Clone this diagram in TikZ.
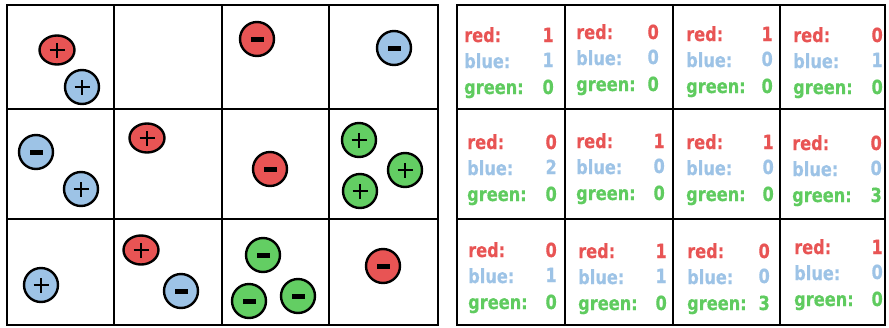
\documentclass[tikz,border=0pt]{standalone}
\usepackage{fontspec}
\setmainfont{DejaVu Sans}[FakeStretch=0.83,BoldFeatures={FakeBold=0.6}]
\usetikzlibrary{shapes.geometric}
\definecolor{cred}{HTML}{E85454}
\definecolor{cblue}{HTML}{9DC3E6}
\definecolor{cgreen}{HTML}{63CE63}
\definecolor{tred}{HTML}{E85454}
\definecolor{tblue}{HTML}{9DC3E6}
\definecolor{tgreen}{HTML}{5FCB5F}
\tikzset{
  gridline/.style={line width=2.5pt, black},
  chg/.style={circle, draw=black, line width=2.4pt, minimum size=34pt, inner sep=0pt},
  chgell/.style={ellipse, draw=black, line width=2.4pt, minimum width=35pt, minimum height=29pt, inner sep=0pt},
  plussign/.style={path picture={\draw[line width=2.1pt]
     ([xshift=-7.5pt]path picture bounding box.center) -- ([xshift=7.5pt]path picture bounding box.center)
     ([yshift=-7.5pt]path picture bounding box.center) -- ([yshift=7.5pt]path picture bounding box.center);}},
  minussign/.style={path picture={\fill[black]
     ([xshift=-6.5pt,yshift=-2.5pt]path picture bounding box.center) rectangle ([xshift=6.5pt,yshift=2.5pt]path picture bounding box.center);}},
  rd/.style={fill=cred}, bl/.style={fill=cblue}, gr/.style={fill=cgreen},
  lbl/.style={anchor=base west, inner sep=0pt, font=\fontsize{19.5}{21}\selectfont\bfseries},
  num/.style={anchor=base east, inner sep=0pt, font=\fontsize{19.5}{21}\selectfont\bfseries},
}
\newcommand\tally[7]{%
  \node[lbl,text=tred] (#1rl) at (#2,#4) {red:};
  \node[num,text=tred] (#1rn) at (#3,#4) {#5};
  \node[lbl,text=tblue] (#1bl) at (#2,{#4+26}) {blue:};
  \node[num,text=tblue] (#1bn) at (#3,{#4+25}) {#6};
  \node[lbl,text=tgreen] (#1gl) at (#2,{#4+52}) {green:};
  \node[num,text=tgreen] (#1gn) at (#3,{#4+52}) {#7};
}
\begin{document}
\begin{tikzpicture}[x=1pt,y=-1pt]
\useasboundingbox (0,0) rectangle (889,327);
% left grid
\draw[gridline] (7,5) rectangle (438,325);
\draw[gridline] (114,5) -- (114,325) (222,5) -- (222,325) (329,5) -- (329,325);
\draw[gridline] (7,109) -- (438,109) (7,219) -- (438,219);
% right grid
\draw[gridline] (457,5) rectangle (885,325);
\draw[gridline] (565,5) -- (565,325) (673,5) -- (673,325) (780,5) -- (780,325);
\draw[gridline] (457,109) -- (885,109) (457,219) -- (885,219);
% charges row 1
\node[chgell,rd,plussign] (a1) at (57,50) {};
\node[chg,bl,plussign] (a2) at (82,87) {};
\node[chg,rd,minussign] (a3) at (257,39) {};
\node[chg,bl,minussign] (a4) at (394,48) {};
% row 2
\node[chg,bl,minussign] (b1) at (36,152) {};
\node[chg,bl,plussign] (b2) at (81,189) {};
\node[chgell,rd,plussign] (b3) at (147,138) {};
\node[chg,rd,minussign] (b4) at (270,169) {};
\node[chg,gr,plussign] (b5) at (359,140) {};
\node[chg,gr,plussign] (b6) at (405,170) {};
\node[chg,gr,plussign] (b7) at (360,191) {};
% row 3
\node[chg,bl,plussign] (c1) at (41,285) {};
\node[chgell,rd,plussign] (c2) at (141,250) {};
\node[chg,bl,minussign] (c3) at (181,291) {};
\node[chg,gr,minussign] (c4) at (263,255) {};
\node[chg,gr,minussign] (c5) at (249,301) {};
\node[chg,gr,minussign] (c6) at (298,296) {};
\node[chg,rd,minussign] (c7) at (383,266) {};
% tallies
\tally{t00}{464}{554}{42}{1}{1}{0}
\tally{t01}{576}{659}{39}{0}{0}{0}
\tally{t02}{686}{773}{41}{1}{0}{0}
\tally{t03}{793}{883}{42}{0}{1}{0}
\tally{t10}{467}{557}{149}{0}{2}{0}
\tally{t11}{576}{665}{148}{1}{0}{0}
\tally{t12}{686}{774}{149}{1}{0}{0}
\tally{t13}{792}{882}{150}{0}{0}{3}
\tally{t20}{468}{557}{257}{0}{1}{0}
\tally{t21}{578}{667}{258}{1}{1}{0}
\tally{t22}{687}{770}{258}{0}{0}{3}
\tally{t23}{794}{883}{254}{1}{0}{0}
\end{tikzpicture}
\end{document}
